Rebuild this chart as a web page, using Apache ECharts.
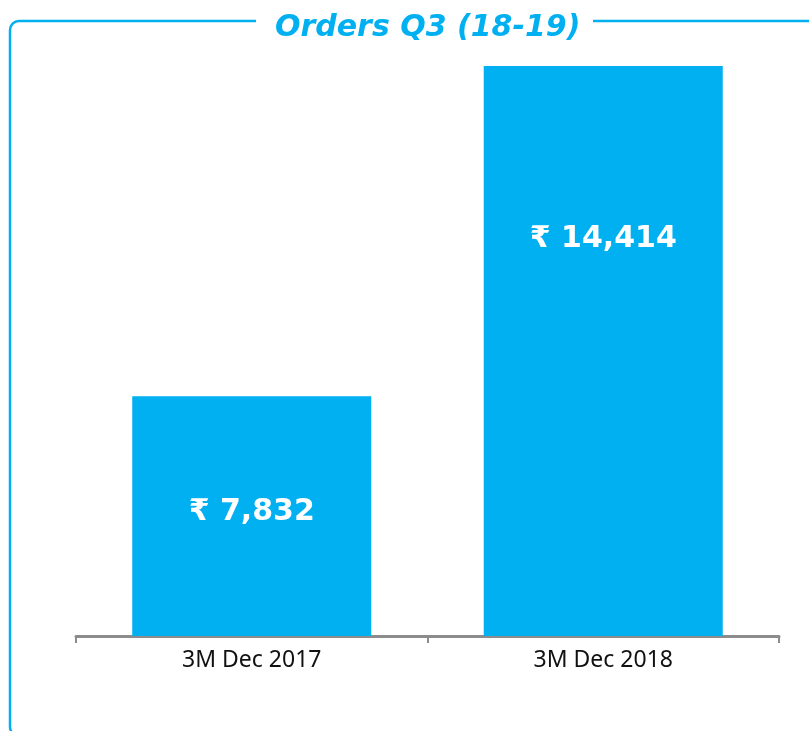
<!DOCTYPE html>
<html>
<head>
<meta charset="utf-8">
<script src="https://cdn.jsdelivr.net/npm/echarts@6/dist/echarts.min.js"></script>
<style>
  html, body { margin: 0; padding: 0; background: #fff; }
  #bar { width: 809px; height: 731px; }
</style>
</head>
<body>
<div id="bar"></div>
<script>
var categories = ['3M Dec 2017', '3M Dec 2018'];
var orders = [7832, 14414];
var titleText = 'Orders Q3 (18-19)';

var chart = echarts.init(document.getElementById('bar'));

function fmt(v) {
    return '₹ ' + v.toLocaleString('en-US');
}

// label placement differs per bar in the original
var labelPos = [
    { position: 'inside', offset: [0, -4] },
    { position: 'insideTop', distance: 158 }
];

var option = {
    backgroundColor: '#fff',
    title: {
        text: titleText,
        left: 270,
        top: 8,
        textStyle: {
            color: '#00b0f0',
            fontFamily: 'DejaVu Sans',
            fontStyle: 'italic',
            fontWeight: 'bold',
            fontSize: 30
        }
    },
    graphic: [
        {   // rounded frame, right and bottom edges pushed off canvas
            type: 'rect',
            z: 1,
            shape: { x: 10, y: 21, width: 900, height: 715, r: 9 },
            style: { stroke: '#00b0f0', lineWidth: 2.5, fill: null },
            silent: true
        },
        {   // gap in the top border behind the title
            type: 'rect',
            z: 2,
            shape: { x: 256, y: 15, width: 337, height: 12 },
            style: { fill: '#fff' },
            silent: true
        }
    ],
    grid: { left: 76, right: 30, top: 66, bottom: 95 },
    xAxis: {
        type: 'category',
        data: categories,
        axisLine: { lineStyle: { color: '#8c8c8c', width: 3 } },
        axisTick: {
            show: true,
            length: 7,
            interval: function (index) { return index < 2; },
            lineStyle: { color: '#8c8c8c', width: 2 }
        },
        axisLabel: {
            color: '#111',
            fontFamily: 'Noto Sans',
            fontSize: 23,
            margin: 13
        }
    },
    yAxis: {
        type: 'value',
        min: 3050,
        max: 14414,
        show: false,
        splitLine: { show: false }
    },
    series: [{
        type: 'bar',
        barWidth: '68%',
        itemStyle: { color: '#00b0f0' },
        data: orders.map(function (v, i) {
            return {
                value: v,
                label: Object.assign({
                    show: true,
                    color: '#fff',
                    fontFamily: 'DejaVu Sans',
                    fontWeight: 'bold',
                    fontSize: 30,
                    formatter: function () { return fmt(v); }
                }, labelPos[i])
            };
        })
    }]
};

chart.setOption(option);
window.addEventListener('resize', function () { chart.resize(); });
</script>
</body>
</html>
